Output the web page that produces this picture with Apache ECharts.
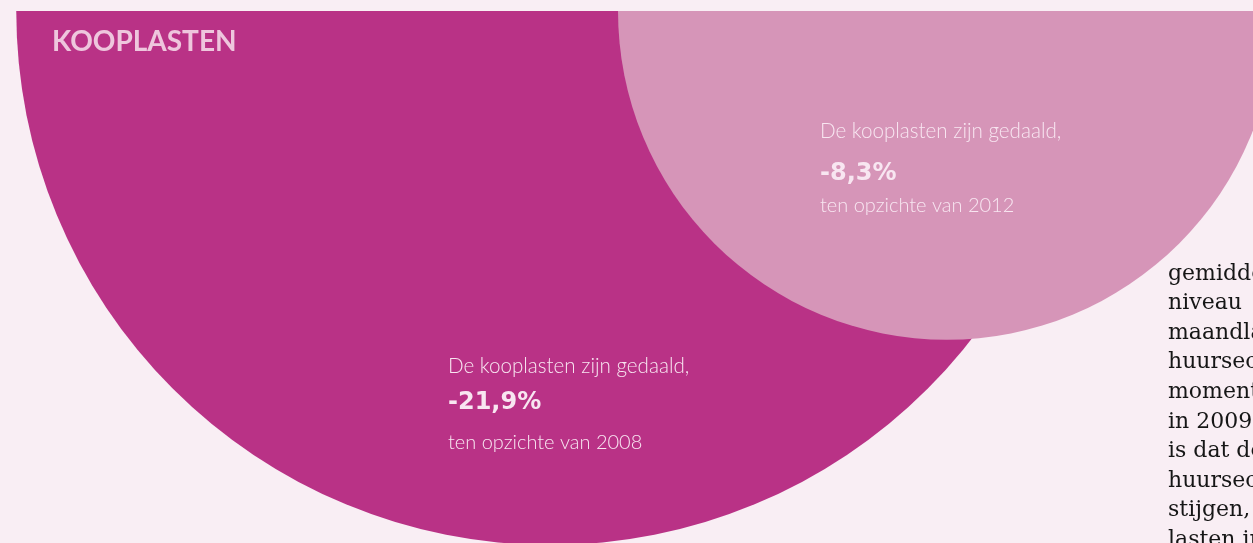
<!DOCTYPE html>
<html>
<head>
<meta charset="utf-8">
<script src="https://cdn.jsdelivr.net/npm/echarts@6/dist/echarts.min.js"></script>
<style>
  html, body { margin: 0; padding: 0; background: #f9eef4; }
  #chart { width: 1253px; height: 543px; }
</style>
</head>
<body>
<div id="chart"></div>
<script>
// gegevens
var jaren = ['2008', '2012'];
var daling = [21.9, 8.3];           // daling kooplasten in %
var kleuren = ['#b93286', '#d695b8'];
var titel = 'KOOPLASTEN';
var regel1 = 'De kooplasten zijn gedaald,';
var regel3 = 'ten opzichte van ';
var broodtekst = ['gemiddelde', 'niveau', 'maandlasten', 'huursector', 'momenteel',
  'in 2009', 'is dat de', 'huursector', 'stijgen,', 'lasten in'];

var R_MAX = 534; // straal van de grootste cirkel (oppervlak ~ waarde)
var maxDaling = Math.max.apply(null, daling);
function straal(v) {
  return R_MAX * Math.sqrt(v / maxDaling);
}

var myChart = echarts.init(document.getElementById('chart'));

// tekst in de cirkels (positie per cirkel)
var tekstPos = [
  { x: 448, y: [366, 403, 443] },
  { x: 820, y: [131, 174, 206] }
];

function fmt(v) {
  return '-' + String(v).replace('.', ',') + '%';
}

var graphics = [{
  type: 'text', left: 52, top: 28, z: 10,
  style: { text: titel, fill: '#eec6dd', font: 'bold 28px Lato' }
}];
jaren.forEach(function (j, i) {
  var p = tekstPos[i];
  var lijnen = [
    { t: regel1, f: '300 20.6px Lato' },
    { t: fmt(daling[i]), f: 'bold 24px "DejaVu Sans"' },
    { t: regel3 + j, f: '300 20px Lato' }
  ];
  lijnen.forEach(function (l, k) {
    graphics.push({
      type: 'text', x: p.x, y: p.y[k], z: 10,
      style: { text: l.t, font: l.f, fill: '#f8e6f1', verticalAlign: 'middle' }
    });
  });
});
graphics.push({
  type: 'text', x: 1168, y: 259, z: 10,
  style: {
    text: broodtekst.join('\n'), font: '22px "DejaVu Serif"', fill: '#161616',
    lineHeight: 29.6, verticalAlign: 'top'
  }
});

var option = {
  backgroundColor: '#f9eef4',
  animation: false,
  grid: { left: 352, right: 108, top: 11, bottom: 0 },
  xAxis: { type: 'category', data: jaren, show: false, boundaryGap: true },
  yAxis: { type: 'value', min: 0, max: 1, inverse: true, show: false },
  graphic: graphics,
  series: [{
    type: 'custom',
    clip: false,
    data: daling.map(function (v, i) { return [i, 0, v]; }),
    renderItem: function (params, api) {
      var c = api.coord([api.value(0), api.value(1)]);
      var r = straal(api.value(2));
      return {
        type: 'sector',
        shape: { cx: c[0], cy: c[1], r: r, r0: 0, startAngle: 0, endAngle: Math.PI, clockwise: true },
        style: { fill: kleuren[params.dataIndex] }
      };
    }
  }]
};
myChart.setOption(option);
</script>
</body>
</html>
